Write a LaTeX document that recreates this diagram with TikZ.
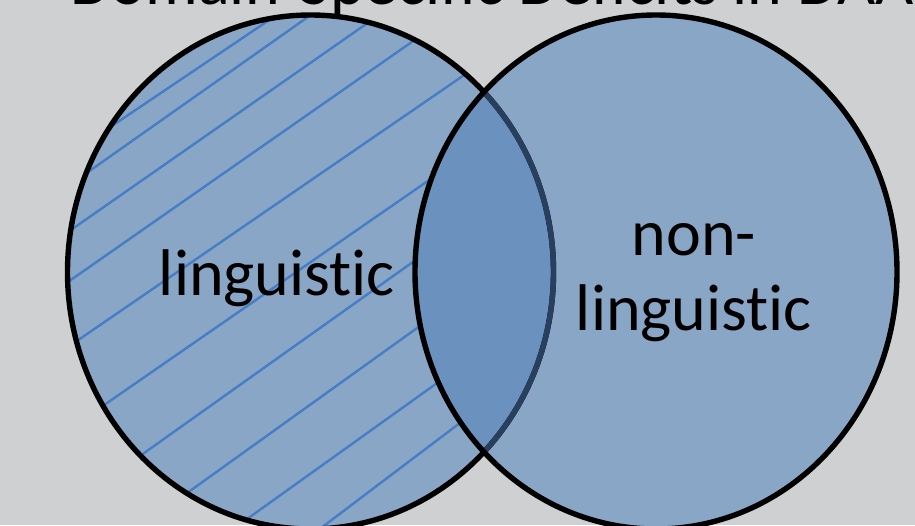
\documentclass[tikz,border=0pt]{standalone}
\usepackage{fontspec}
\setmainfont{Carlito}[Ligatures=NoCommon]
\usetikzlibrary{calc}
\definecolor{bg}{RGB}{207,208,210}
\definecolor{vennfill}{RGB}{138,166,198}
\definecolor{lensfill}{RGB}{107,145,191}
\definecolor{hatchblue}{RGB}{70,126,198}
\definecolor{navy}{RGB}{40,64,94}
\begin{document}
\begin{tikzpicture}[x=1pt,y=-1pt,
  outline/.style={draw=black,line width=5.4pt},
  hatchline/.style={draw=hatchblue,line width=2.4pt},
  lbl/.style={inner sep=0pt,anchor=base,text=black,font=\fontsize{66}{75}\selectfont}]
\useasboundingbox (0,0) rectangle (915,525);
\clip (0,0) rectangle (915,525);
\fill[bg] (0,0) rectangle (915,525);
\coordinate (L) at (310.5,272);
\coordinate (R) at (656,272);
\tikzset{lell/.style={x radius=243pt,y radius=257pt},rell/.style={x radius=241pt,y radius=257pt}}
% fills
\fill[vennfill] (L) ellipse [lell];
\fill[vennfill] (R) ellipse [rell];
% hatch lines in left circle
\begin{scope}
  \clip (L) ellipse [lell];
  \foreach \ax/\ay/\bx/\by in {113.3/125/266.7/21.7, 93.3/168.3/308.3/16.7, 73.3/228.3/360/28.3,
     68.3/281.7/405/46.7, 78.3/340/466.7/73.3, 101.7/406.7/431.7/178.3, 136.7/458.3/413.3/261.7,
     186.7/493.3/416.7/328.3, 243.3/521.7/436.7/383.3, 325/525/455/426.7}{
    \draw[hatchline] ($(\ax,\ay)!-0.15!(\bx,\by)$) -- ($(\ax,\ay)!1.15!(\bx,\by)$);
  }
\end{scope}
% lens
\begin{scope}
  \clip (L) ellipse [lell];
  \fill[lensfill] (R) ellipse [rell];
\end{scope}
% outlines
\draw[outline] (L) ellipse [lell];
\begin{scope}
  \clip (R) ellipse [rell];
  \draw[outline,draw=navy] (L) ellipse [lell];
\end{scope}
\draw[outline] (R) ellipse [rell];
% texts
\node[lbl,anchor=base west] (title) at (70,4) {Domain-Specific Deficits in DAA};
\node[lbl] (ling) at (277,295) {linguistic};
\node[lbl] (non) at (694,255) {non-};
\node[lbl] (nonling) at (694,330) {linguistic};
\end{tikzpicture}
\end{document}
